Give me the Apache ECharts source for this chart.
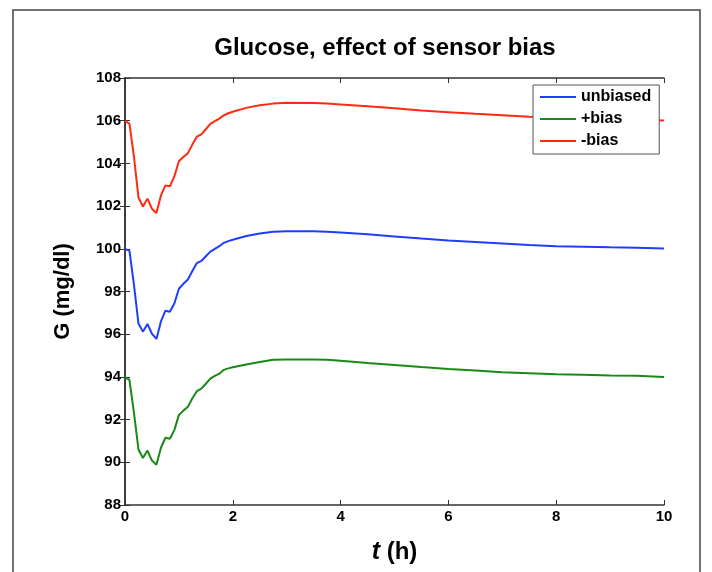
<!DOCTYPE html>
<html>
<head>
<meta charset="utf-8">
<script src="https://cdn.jsdelivr.net/npm/echarts@6/dist/echarts.min.js"></script>
<style>
  html, body { margin: 0; padding: 0; background: #fff; }
  #chart { width: 712px; height: 572px; }
</style>
</head>
<body>
<div id="chart"></div>
<script>
// time (h): 5-minute samples for the first 2 h, coarser afterwards
const hours = [
  0, 0.083, 0.167, 0.25, 0.333, 0.417, 0.5, 0.583, 0.667, 0.75, 0.833, 0.917,
  1, 1.083, 1.167, 1.25, 1.333, 1.417, 1.5, 1.583, 1.667, 1.75, 1.833, 1.917,
  2, 2.25, 2.5, 2.75, 3, 3.5, 3.75, 4, 4.5, 5, 5.5, 6, 6.5, 7, 7.5, 8, 8.5, 9, 9.5, 10
];
const unbiased = [
  100.0, 99.9, 98.3, 96.5, 96.12, 96.48, 96.02, 95.78, 96.6, 97.1, 97.05, 97.45,
  98.13, 98.36, 98.56, 98.96, 99.33, 99.43, 99.65, 99.87, 100.0, 100.12, 100.28, 100.36,
  100.42, 100.6, 100.72, 100.8, 100.82, 100.82, 100.8, 100.76, 100.68, 100.58, 100.48,
  100.39, 100.32, 100.25, 100.18, 100.12, 100.1, 100.07, 100.05, 100.01
];
const plusBias = [
  94.0, 93.85, 92.3, 90.6, 90.2, 90.55, 90.08, 89.88, 90.68, 91.15, 91.1, 91.52,
  92.22, 92.42, 92.6, 93.0, 93.33, 93.45, 93.68, 93.92, 94.05, 94.15, 94.33, 94.4,
  94.45, 94.58, 94.7, 94.8, 94.82, 94.82, 94.8, 94.76, 94.65, 94.56, 94.46,
  94.37, 94.3, 94.22, 94.17, 94.12, 94.1, 94.07, 94.05, 94.0
];
const minusBias = [
  106.0, 105.85, 104.3, 102.4, 101.98, 102.35, 101.88, 101.68, 102.5, 102.97, 102.93, 103.4,
  104.1, 104.3, 104.48, 104.88, 105.25, 105.36, 105.6, 105.85, 105.98, 106.1, 106.25, 106.35,
  106.42, 106.6, 106.72, 106.8, 106.84, 106.83, 106.8, 106.76, 106.68, 106.58, 106.48,
  106.4, 106.32, 106.25, 106.18, 106.13, 106.1, 106.07, 106.05, 106.01
];
const seriesNames = ["unbiased", "+bias", "-bias"];
const colors = ["#1f3dff", "#178a17", "#ff2a10"];

const FONT = "'Liberation Sans', Arial, Helvetica, sans-serif";
const AXIS = "#333";

const chart = echarts.init(document.getElementById("chart"), null, { renderer: "canvas" });

const pairs = (ys) => hours.map((t, i) => [t, ys[i]]);

const frameAxis = (extra) => Object.assign({
  type: "value",
  axisLine: { show: true, lineStyle: { color: AXIS, width: 1.5 } },
  axisTick: { show: true, inside: true, length: 5, lineStyle: { color: AXIS } },
  splitLine: { show: false },
}, extra);

chart.setOption({
  animation: false,
  backgroundColor: "#fff",
  title: {
    text: "Glucose, effect of sensor bias",
    left: 380,
    textAlign: "center",
    top: 31,
    textStyle: { fontFamily: FONT, fontWeight: "bold", fontSize: 24, color: "#000" },
  },
  graphic: [{
    type: "rect",
    shape: { x: 13, y: 10, width: 687, height: 620 },
    style: { fill: null, stroke: "#444", lineWidth: 1.5 },
    silent: true,
  }],
  grid: { left: 125, right: 48, top: 78, bottom: 67 },
  legend: {
    data: seriesNames,
    orient: "vertical",
    left: 533,
    top: 85,
    padding: [4, 8, 5, 7],
    itemGap: 6,
    itemWidth: 36,
    itemHeight: 2,
    icon: "rect",
    backgroundColor: "#fff",
    borderColor: "#555",
    borderWidth: 1,
    textStyle: { fontFamily: FONT, fontWeight: "bold", fontSize: 16, color: "#000", lineHeight: 16 },
  },
  xAxis: [
    frameAxis({
      min: 0, max: 10, interval: 2,
      position: "bottom",
      name: "{i|t} (h)",
      nameLocation: "middle",
      nameGap: 35,
      nameTextStyle: {
        fontFamily: FONT, fontWeight: "bold", fontSize: 24, color: "#000",
        rich: { i: { fontFamily: FONT, fontWeight: "bold", fontStyle: "italic", fontSize: 25, color: "#000" } },
      },
      axisLabel: { fontFamily: FONT, fontWeight: "bold", fontSize: 15, color: "#000", margin: 4 },
    }),
    frameAxis({ min: 0, max: 10, interval: 2, position: "top", axisLabel: { show: false } }),
  ],
  yAxis: [
    frameAxis({
      min: 88, max: 108, interval: 2,
      position: "left",
      name: "G (mg/dl)",
      nameLocation: "middle",
      nameGap: 51,
      nameRotate: 90,
      nameTextStyle: { fontFamily: FONT, fontWeight: "bold", fontSize: 22, color: "#000" },
      axisLabel: { fontFamily: FONT, fontWeight: "bold", fontSize: 15, color: "#000", margin: 4 },
    }),
    frameAxis({ min: 88, max: 108, interval: 2, position: "right", axisLabel: { show: false } }),
  ],
  series: [unbiased, plusBias, minusBias].map((ys, k) => ({
    name: seriesNames[k],
    type: "line",
    data: pairs(ys),
    showSymbol: false,
    symbol: "none",
    lineStyle: { color: colors[k], width: 2 },
    itemStyle: { color: colors[k] },
  })),
});
</script>
</body>
</html>
